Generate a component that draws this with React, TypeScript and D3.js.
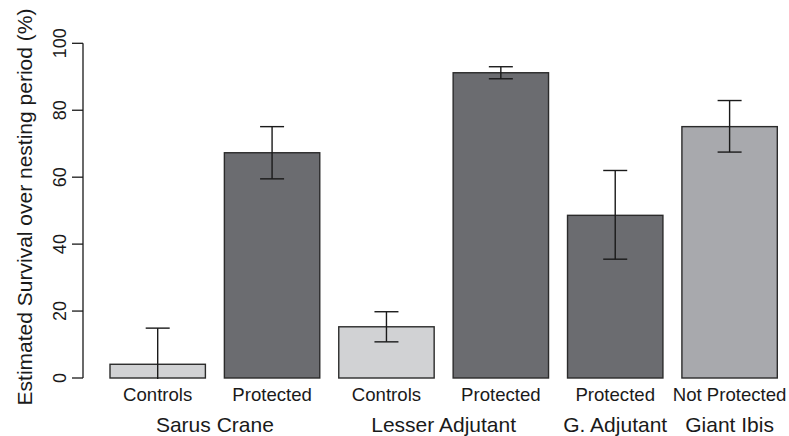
import React from 'react'
import * as d3 from 'd3'

// values
const treatments = ['Controls', 'Protected', 'Controls', 'Protected', 'Protected', 'Not Protected']
const species = ['Sarus Crane', 'Sarus Crane', 'Lesser Adjutant', 'Lesser Adjutant', 'G. Adjutant', 'Giant Ibis']
const survival = [4.1, 67.3, 15.3, 91.2, 48.6, 75.1]
const lowerCI = [0, 59.5, 10.8, 89.4, 35.5, 67.5]
const upperCI = [14.9, 75.1, 19.8, 93.0, 62.0, 82.9]
const yTicks = [0, 20, 40, 60, 80, 100]
const yLabel = 'Estimated Survival over nesting period (%)'

const W = 789
const H = 436
const font = '"Liberation Sans", Arial, Helvetica, sans-serif'

export default function App () {
  const idx = d3.range(survival.length)

  const x = d3.scaleBand<number>()
    .domain(idx)
    .range([110, 777.3])
    .paddingInner(0.166)
    .paddingOuter(0)

  const y = d3.scaleLinear()
    .domain([0, 100])
    .range([378, 43.3])

  const fill = d3.scaleOrdinal<string, string>()
    .domain(['Controls', 'Protected', 'Not Protected'])
    .range(['#d1d2d4', '#6b6c70', '#a8a9ad'])

  // group labels centred under their bars
  const groups = Array.from(d3.group(idx, i => species[i]), ([name, members]) => ({
    name,
    cx: (x(members[0])! + x(members[members.length - 1])! + x.bandwidth()) / 2
  }))

  const axisX = 83
  const capHalf = 12

  return (
    <svg width={W} height={H} style={{ position: 'absolute', left: 0, top: 0, background: '#fff' }}
      fontFamily={font}>
      {/* bars */}
      {idx.map(i => (
        <rect key={'b' + i}
          x={x(i)} y={y(survival[i])}
          width={x.bandwidth()} height={y(0) - y(survival[i])}
          fill={fill(treatments[i])} stroke='#2b2b2b' strokeWidth={1.4} />
      ))}

      {/* error bars */}
      {idx.map(i => {
        const cx = x(i)! + x.bandwidth() / 2
        const lo = Math.max(lowerCI[i], 0)
        return (
          <g key={'e' + i} stroke='#1a1a1a' strokeWidth={1.4}>
            <line x1={cx} x2={cx} y1={y(upperCI[i])} y2={lo > 0 ? y(lo) : y(0) + 1} />
            <line x1={cx - capHalf} x2={cx + capHalf} y1={y(upperCI[i])} y2={y(upperCI[i])} />
            {lo > 0 && <line x1={cx - capHalf} x2={cx + capHalf} y1={y(lo)} y2={y(lo)} />}
          </g>
        )
      })}

      {/* y axis */}
      <g stroke='#1a1a1a' strokeWidth={1.3}>
        <line x1={axisX} x2={axisX} y1={y(0)} y2={y(100)} />
        {yTicks.map(t => (
          <line key={'t' + t} x1={axisX - 11} x2={axisX} y1={y(t)} y2={y(t)} />
        ))}
      </g>
      {yTicks.map(t => (
        <text key={'l' + t} transform={`translate(66,${y(t)}) rotate(-90)`}
          textAnchor='middle' fontSize={18} fill='#1a1a1a'>{t}</text>
      ))}
      <text transform='translate(32,207) rotate(-90)' textAnchor='middle'
        fontSize={21} fill='#1a1a1a'>{yLabel}</text>

      {/* category labels */}
      {idx.map(i => (
        <text key={'c' + i} x={x(i)! + x.bandwidth() / 2} y={401}
          textAnchor='middle' fontSize={18.6} fill='#1a1a1a'>{treatments[i]}</text>
      ))}
      {groups.map(g => (
        <text key={g.name} x={g.cx} y={431.5}
          textAnchor='middle' fontSize={21} fill='#1a1a1a'>{g.name}</text>
      ))}
    </svg>
  )
}
